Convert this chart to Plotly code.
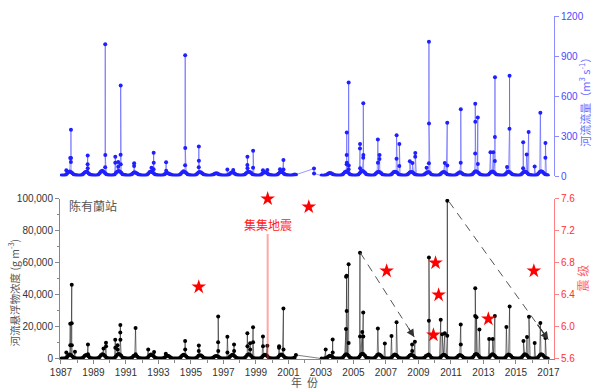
import plotly.graph_objects as go

# ---------------- data ----------------
flow_years = [1987, 1988, 1989, 1990, 1991, 1992, 1993, 1994, 1995, 1996, 1997, 1998, 1999, 2000, 2001,
              2003, 2004, 2005, 2006, 2007, 2008, 2009, 2010, 2011, 2012, 2013, 2014, 2015, 2016]
# monthly base discharge (m3/s)
flow_base = [
    [6, 5, 6, 9, 20, 32, 36, 30, 22, 13, 8, 7],
    [6, 5, 6, 8, 18, 28, 34, 32, 21, 12, 8, 7],
    [6, 5, 6, 10, 22, 36, 40, 34, 24, 14, 9, 7],
    [6, 6, 7, 11, 24, 34, 38, 36, 26, 15, 9, 8],
    [6, 5, 5, 8, 16, 26, 30, 24, 18, 11, 8, 6],
    [6, 5, 6, 9, 21, 32, 35, 29, 22, 13, 8, 7],
    [5, 5, 5, 7, 15, 22, 24, 21, 15, 10, 7, 6],
    [6, 5, 6, 9, 19, 30, 37, 32, 24, 14, 8, 7],
    [6, 5, 6, 8, 18, 27, 32, 28, 20, 12, 8, 6],
    [5, 4, 5, 7, 12, 19, 22, 21, 15, 9, 7, 5],
    [5, 5, 6, 8, 16, 26, 29, 26, 18, 11, 8, 6],
    [6, 6, 7, 10, 21, 30, 34, 32, 24, 14, 9, 7],
    [6, 5, 6, 8, 18, 26, 29, 27, 21, 12, 8, 7],
    [6, 5, 6, 9, 19, 27, 32, 29, 21, 12, 8, 7],
    [6, 5, 6, 8, 12, 11],
    [5, 4, 5, 7, 13, 21, 24, 22, 16, 10, 7, 5],
    [5, 5, 6, 8, 18, 29, 35, 32, 24, 13, 8, 6],
    [6, 5, 6, 10, 22, 34, 38, 35, 26, 14, 9, 7],
    [6, 5, 6, 9, 21, 30, 34, 30, 22, 12, 8, 7],
    [6, 5, 6, 8, 19, 29, 34, 32, 24, 13, 8, 7],
    [6, 5, 6, 9, 19, 27, 32, 29, 22, 12, 8, 7],
    [5, 5, 5, 7, 15, 22, 27, 32, 24, 12, 8, 6],
    [6, 5, 6, 8, 18, 27, 32, 29, 21, 12, 8, 7],
    [5, 5, 6, 7, 16, 24, 29, 26, 18, 11, 8, 6],
    [6, 5, 7, 10, 22, 34, 37, 32, 24, 14, 9, 7],
    [6, 5, 6, 9, 21, 30, 35, 32, 22, 13, 8, 7],
    [6, 5, 6, 8, 19, 29, 34, 30, 21, 12, 8, 7],
    [6, 5, 6, 9, 21, 30, 35, 32, 22, 13, 8, 7],
    [6, 5, 6, 9, 21, 32, 37, 34, 24, 14, 9, 7],
]
flow_event_dates = [1987.33, 1987.57, 1987.61, 1988.64, 1989.72, 1990.34, 1990.52, 1990.67, 1991.50,
                    1992.57, 1992.70, 1993.47, 1994.64, 1995.48, 1997.24, 1997.60, 1998.47, 1998.82,
                    1999.43, 1999.70, 2000.48, 2000.69, 2002.57,
                    2004.58, 2004.70, 2005.40, 2005.60, 2006.50, 2006.60, 2007.65, 2007.82, 2008.47,
                    2008.63, 2008.80, 2009.50, 2009.64, 2010.62, 2010.77, 2011.60, 2012.49, 2012.65,
                    2013.43, 2013.60, 2013.70, 2014.45, 2014.60, 2015.44, 2015.66, 2015.78, 2016.15,
                    2016.50, 2016.81]
flow_event_values = [[44], [136], [106, 348, 136], [89, 155, 60], [67, 988, 158], [101, 146], [106, 70],
                     [161, 679, 90], [76, 96], [64], [52, 175, 101], [104, 40], [81, 906, 212],
                     [67, 222, 116], [50], [47], [84, 146, 60], [64, 190], [44], [47], [52], [121, 50],
                     [57, 20],
                     [89, 158, 328, 100], [52, 701, 80], [207, 242, 60], [138, 546, 158], [274, 100],
                     [128, 158], [131, 306], [76, 242], [111], [99], [146, 173], [64], [96, 1007, 395],
                     [99], [400, 80], [101, 501], [170, 543, 407], [439, 91], [180], [180],
                     [113, 294, 741], [69], [356, 753], [59, 254], [163], [331], [72], [476], [138, 249]]

ssc_years = flow_years
# monthly base suspended sediment concentration (g/m3)
ssc_base = [
    [300, 250, 300, 500, 1200, 2200, 2800, 2400, 1600, 800, 450, 350],
    [300, 250, 280, 450, 1100, 2000, 2500, 2200, 1500, 700, 400, 300],
    [300, 260, 300, 550, 1300, 2400, 3000, 2600, 1800, 900, 500, 350],
    [350, 300, 350, 600, 1500, 2600, 3200, 2800, 2000, 1000, 550, 400],
    [300, 250, 280, 450, 1000, 1800, 2200, 2000, 1400, 700, 400, 300],
    [300, 260, 300, 500, 1300, 2300, 2800, 2400, 1700, 850, 450, 350],
    [280, 240, 260, 400, 900, 1600, 2000, 1800, 1200, 600, 350, 300],
    [300, 260, 300, 500, 1200, 2200, 2700, 2400, 1600, 800, 450, 350],
    [300, 250, 280, 450, 1100, 2000, 2400, 2200, 1500, 700, 400, 300],
    [280, 240, 260, 400, 900, 1500, 1900, 1700, 1200, 600, 350, 280],
    [300, 250, 300, 500, 1200, 2100, 2600, 2300, 1600, 800, 450, 350],
    [320, 280, 320, 550, 1400, 2500, 3000, 2700, 1900, 900, 500, 380],
    [300, 260, 300, 500, 1200, 2200, 2700, 2400, 1700, 850, 450, 350],
    [300, 260, 300, 500, 1300, 2300, 2800, 2500, 1700, 850, 450, 350],
    [300, 260, 300, 500, 1000, 2500],
    [250, 220, 250, 400, 900, 1600, 2000, 1800, 1200, 600, 350, 280],
    [300, 260, 300, 500, 1300, 2400, 3000, 2700, 1800, 900, 500, 350],
    [350, 300, 350, 600, 1500, 2800, 3300, 3000, 2000, 1000, 550, 400],
    [320, 280, 320, 550, 1400, 2500, 3000, 2700, 1900, 900, 500, 380],
    [300, 260, 300, 500, 1300, 2300, 2800, 2500, 1700, 850, 450, 350],
    [300, 260, 300, 500, 1200, 2200, 2600, 2400, 1800, 900, 450, 350],
    [280, 240, 280, 450, 1000, 1900, 2400, 2800, 2000, 900, 450, 320],
    [300, 260, 300, 500, 1200, 2200, 2700, 2500, 1700, 850, 450, 350],
    [280, 240, 280, 450, 1100, 2000, 2500, 2200, 1500, 750, 400, 300],
    [320, 280, 320, 550, 1400, 2600, 3100, 2800, 1900, 950, 500, 380],
    [300, 260, 300, 500, 1300, 2400, 2900, 2600, 1800, 900, 480, 360],
    [300, 260, 300, 500, 1200, 2300, 2800, 2500, 1700, 850, 450, 350],
    [300, 260, 300, 500, 1300, 2400, 2900, 2600, 1800, 900, 480, 360],
    [300, 260, 300, 500, 1300, 2400, 3000, 2700, 1800, 900, 500, 360],
]
ssc_event_dates = [1987.33, 1987.57, 1987.66, 1987.86, 1988.66, 1989.62, 1989.77, 1990.34, 1990.48,
                   1990.65, 1991.59, 1992.37, 1992.73, 1993.45, 1994.64, 1995.48, 1996.67, 1997.24,
                   1997.65, 1998.47, 1998.64, 1998.82, 1999.43, 1999.70, 2000.42, 2000.69,
                   2003.29, 2003.72, 2004.54, 2004.58, 2004.70, 2005.40, 2005.54, 2005.60, 2006.50,
                   2006.93, 2007.34, 2007.65, 2008.61, 2008.78, 2009.64, 2010.37, 2010.46, 2010.62,
                   2010.77, 2011.60, 2012.49, 2012.57, 2012.75, 2013.35, 2013.57, 2013.70, 2014.41,
                   2014.61, 2015.46, 2015.68, 2015.80, 2016.15, 2016.50, 2016.81]
ssc_event_values = [[4100], [22000, 8600], [22300, 46400, 8600], [4500], [9000, 3000], [6500],
                    [10200, 8000], [12000, 7000], [8600, 6000], [16500, 21300, 12000], [19400, 3000],
                    [6000], [4300], [3300], [11200, 6000], [5000, 8400], [10500, 26600, 5000],
                    [13900, 4000], [9000, 5000], [16100, 8000], [9800, 6000], [19800, 10500],
                    [14100, 8000], [8200], [7000, 8000], [31500, 6000],
                    [5900], [12100, 4000], [18800, 51300], [52000, 30000], [59100, 10000],
                    [66300, 14000], [16800], [29000, 14100], [19000], [9600], [14300], [22900],
                    [9000, 5000], [10800], [23900, 63400], [24500], [15500], [16100], [14500, 98800],
                    [21500, 9000], [26800, 44200], [26000], [18400], [12500], [12500], [26800],
                    [20000], [32700], [11200], [13700], [26400], [10000], [22500], [13100]]

quake_years = [1995.48, 1999.72, 2002.25, 2007.04, 2010.05, 2010.24, 2009.92, 2013.30, 2016.10]
quake_mags = [6.5, 7.6, 7.5, 6.7, 6.8, 6.4, 5.9, 6.1, 6.7]

chichi_year = 1999.72
chichi_line_top = 78000
chichi_label_y = 84000

arrow_start_years = [2005.42, 2010.88]
arrow_start_ssc = [66300, 98200]
arrow_end_years = [2008.74, 2016.99]
arrow_end_ssc = [13700, 12100]

x_tick_years = list(range(1987, 2018, 2))


def build_series(years, base, ev_dates, ev_vals):
    pts = []
    for yr, row in zip(years, base):
        for m, v in enumerate(row):
            pts.append((yr + (m + 0.5) / 12, v))
    for d, vals in zip(ev_dates, ev_vals):
        for k, v in enumerate(vals):
            pts.append((d + k * 0.004, v))
    pts.sort()
    return [p[0] for p in pts], [p[1] for p in pts]


fx, fy = build_series(flow_years, flow_base, flow_event_dates, flow_event_values)
sx, sy = build_series(ssc_years, ssc_base, ssc_event_dates, ssc_event_values)

FONT = "Arial, Liberation Sans, Noto Sans CJK SC, sans-serif"
CJK = "Noto Sans CJK SC, Arial, sans-serif"

fig = go.Figure()

fig.add_trace(go.Scatter(x=fx, y=fy, xaxis="x2", yaxis="y3", mode="lines+markers",
                         line=dict(color="rgba(70,70,255,0.55)", width=1),
                         marker=dict(color="#1f1fff", size=4), showlegend=False))

fig.add_trace(go.Scatter(x=sx, y=sy, xaxis="x", yaxis="y", mode="lines+markers",
                         line=dict(color="rgba(0,0,0,0.5)", width=1),
                         marker=dict(color="black", size=4), showlegend=False))

for i in range(len(arrow_start_years)):
    fig.add_trace(go.Scatter(x=[arrow_start_years[i], arrow_end_years[i]],
                             y=[arrow_start_ssc[i], arrow_end_ssc[i]],
                             xaxis="x", yaxis="y", mode="lines",
                             line=dict(color="#555555", width=1, dash="8px,6px"),
                             showlegend=False, hoverinfo="skip"))

fig.add_trace(go.Scatter(x=quake_years, y=quake_mags, xaxis="x", yaxis="y2", mode="markers",
                         marker=dict(symbol="star", size=11, color="#ff0000", line=dict(width=0)),
                         cliponaxis=False, showlegend=False))

annotations = []
for i in range(len(arrow_start_years)):
    dx = arrow_end_years[i] - arrow_start_years[i]
    dy = arrow_end_ssc[i] - arrow_start_ssc[i]
    annotations.append(dict(x=arrow_end_years[i], y=arrow_end_ssc[i], xref="x", yref="y",
                            ax=arrow_end_years[i] - 0.12 * dx, ay=arrow_end_ssc[i] - 0.12 * dy,
                            axref="x", ayref="y", text="", showarrow=True,
                            arrowhead=2, arrowsize=1.3, arrowwidth=1.2, arrowcolor="#333333"))

annotations += [
    dict(x=chichi_year, y=chichi_label_y, xref="x", yref="y", text="集集地震", showarrow=False,
         font=dict(family=CJK, size=12, color="#ff2020"), yanchor="middle"),
    dict(x=0.014, y=0.447, xref="paper", yref="paper", text="陈有蘭站", showarrow=False,
         xanchor="left", yanchor="middle", font=dict(family=CJK, size=12, color="#555555")),
    dict(x=-0.0945, y=0.195, xref="paper", yref="paper",
         text="河流悬浮物浓度 (g m<sup>-3</sup>)",
         textangle=-90, showarrow=False, xanchor="center", yanchor="middle",
         font=dict(family=CJK, size=10.5, color="#555555")),
    dict(x=1.0567, y=0.235, xref="paper", yref="paper", text="震 级", textangle=-90,
         showarrow=False, xanchor="center", yanchor="middle",
         font=dict(family=CJK, size=12, color="#ff6060")),
    dict(x=1.0628, y=0.756, xref="paper", yref="paper",
         text="河流流量（m<sup>3</sup> s<sup>-1</sup>）",
         textangle=-90, showarrow=False, xanchor="center", yanchor="middle",
         font=dict(family=CJK, size=11, color="#6a6aff")),
    dict(x=0.494, y=-0.067, xref="paper", yref="paper", text="年\u00a0\u00a0份", showarrow=False,
         xanchor="center", yanchor="middle", font=dict(family=CJK, size=11, color="#555555")),
]

shapes = [dict(type="line", xref="x", yref="y", x0=chichi_year, x1=chichi_year, y0=0,
               y1=chichi_line_top, line=dict(color="rgba(255,60,60,0.45)", width=2))]

axis_gray = "#888888"
fig.update_layout(
    width=600, height=389,
    margin=dict(l=60, r=46, t=10, b=30),
    paper_bgcolor="white", plot_bgcolor="white",
    font=dict(family=FONT, size=10, color="#333333"),
    showlegend=False,
    annotations=annotations,
    shapes=shapes,
    xaxis=dict(domain=[0, 1], range=[1986.94, 2017.34], anchor="y", showline=True,
               linecolor=axis_gray, ticks="outside", ticklen=4, tickcolor=axis_gray,
               tickvals=x_tick_years, ticktext=[str(v) for v in x_tick_years],
               minor=dict(dtick=1, tick0=1987, ticks="outside", ticklen=3, tickcolor=axis_gray),
               tickfont=dict(size=10, color="#333333"), showgrid=False, zeroline=False),
    xaxis2=dict(matches="x", anchor="y3", visible=False, showgrid=False),
    yaxis=dict(domain=[0, 0.467], range=[0, 100000], showline=True, linecolor=axis_gray,
               ticks="outside", ticklen=4, tickcolor=axis_gray, tick0=0, dtick=20000,
               tickformat=",d", minor=dict(dtick=10000, ticks="outside", ticklen=2, tickcolor=axis_gray),
               tickfont=dict(size=10, color="#333333"), showgrid=False, zeroline=False),
    yaxis2=dict(overlaying="y", side="right", anchor="x", range=[5.6, 7.6], tick0=5.6, dtick=0.4,
                tickformat=".1f", showline=True, linecolor="#ff8080", ticks="outside", ticklen=4,
                tickcolor="#ff8080", tickfont=dict(size=10, color="#ff3030"),
                showgrid=False, zeroline=False),
    yaxis3=dict(domain=[0.533, 1], range=[0, 1200], side="right", anchor="x2", tick0=0, dtick=300,
                showline=True, linecolor="#8c8cff", ticks="outside", ticklen=4, tickcolor="#8c8cff",
                tickfont=dict(size=10, color="#4a4aff"), showgrid=False, zeroline=False),
)

fig.write_html("out.html", config={"displayModeBar": False},
               post_script="document.body.style.margin='0';document.body.style.overflow='hidden';")
